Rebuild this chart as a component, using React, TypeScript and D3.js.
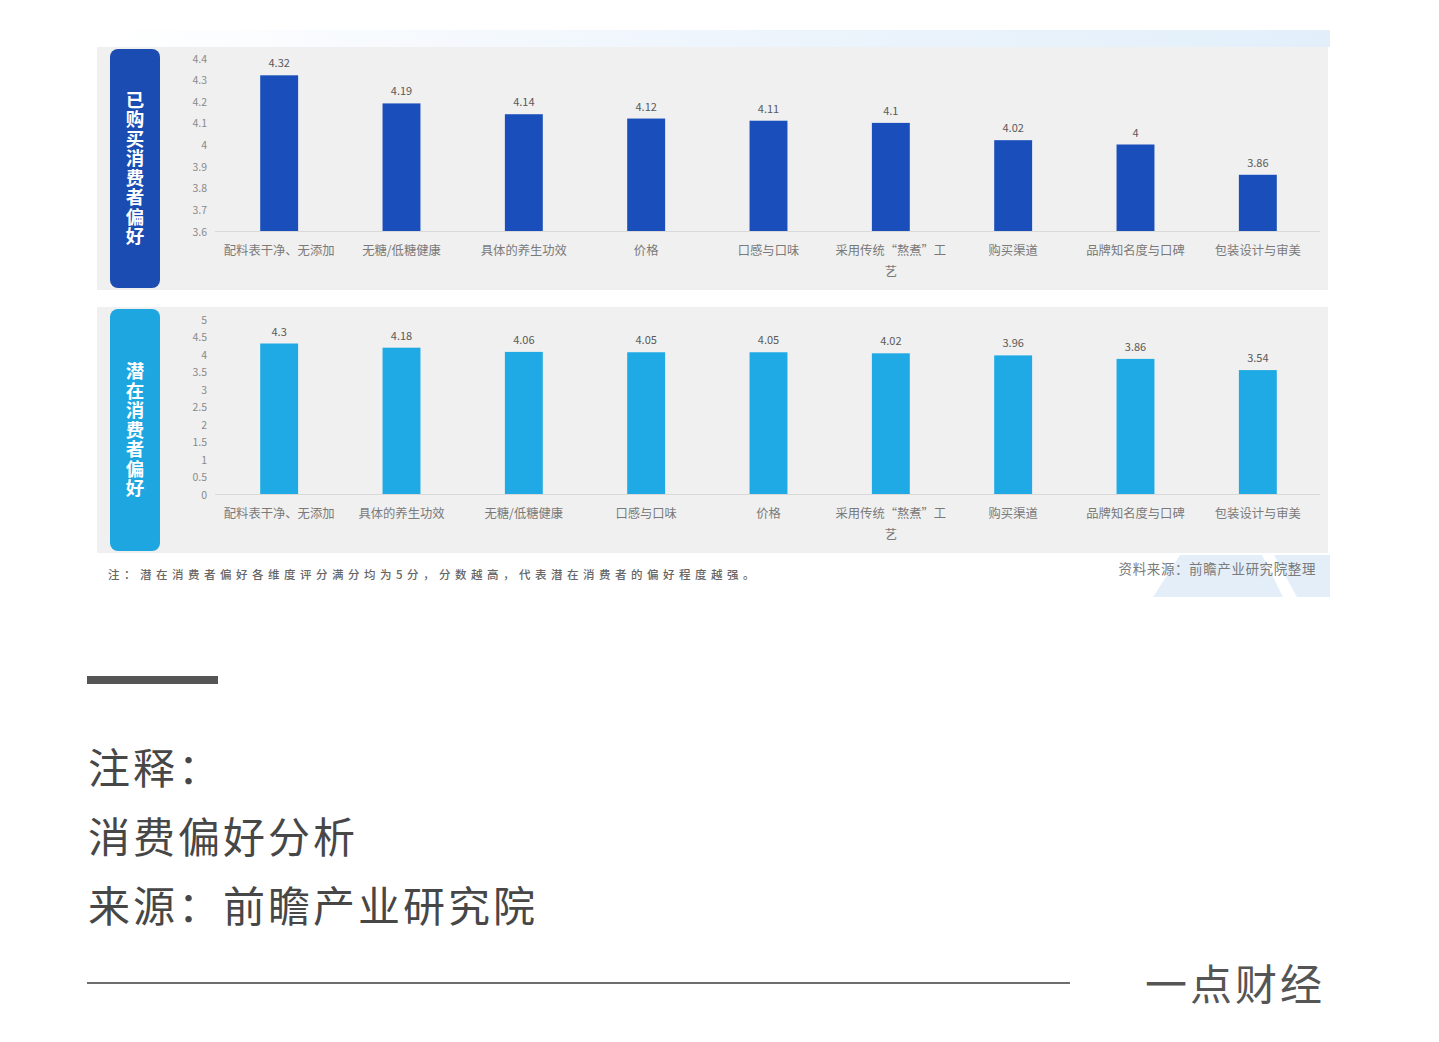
import React from "react";
import * as d3 from "d3";

const purchasedCategories = [
  "配料表干净、无添加",
  "无糖/低糖健康",
  "具体的养生功效",
  "价格",
  "口感与口味",
  "采用传统“熬煮”工艺",
  "购买渠道",
  "品牌知名度与口碑",
  "包装设计与审美",
];
const purchasedValues = [4.32, 4.19, 4.14, 4.12, 4.11, 4.1, 4.02, 4, 3.86];
const purchasedTicks = [3.6, 3.7, 3.8, 3.9, 4, 4.1, 4.2, 4.3, 4.4];

const potentialCategories = [
  "配料表干净、无添加",
  "具体的养生功效",
  "无糖/低糖健康",
  "口感与口味",
  "价格",
  "采用传统“熬煮”工艺",
  "购买渠道",
  "品牌知名度与口碑",
  "包装设计与审美",
];
const potentialValues = [4.3, 4.18, 4.06, 4.05, 4.05, 4.02, 3.96, 3.86, 3.54];
const potentialTicks = [0, 0.5, 1, 1.5, 2, 2.5, 3, 3.5, 4, 4.5, 5];

const panelTitles = ["已购买消费者偏好", "潜在消费者偏好"];
const noteText = "注：潜在消费者偏好各维度评分满分均为5分，分数越高，代表潜在消费者的偏好程度越强。";
const sourceText = "资料来源：前瞻产业研究院整理";
const captionLines = ["注释：", "消费偏好分析", "来源：前瞻产业研究院"];
const brandText = "一点财经";

const FONT = "'Noto Sans CJK SC', 'Noto Sans', sans-serif";

function wrap(label: string, maxChars = 9): string[] {
  const chars = Array.from(label);
  const lines: string[] = [];
  for (let i = 0; i < chars.length; i += maxChars) lines.push(chars.slice(i, i + maxChars).join(""));
  return lines;
}

type PanelProps = {
  title: string;
  categories: string[];
  values: number[];
  ticks: number[];
  domain: [number, number];
  top: number;
  height: number;
  yTop: number;
  yBase: number;
  barColor: string;
  boxColor: string;
};

function Panel(p: PanelProps) {
  const x = d3
    .scaleBand<string>()
    .domain(p.categories)
    .range([218, 1319])
    .paddingInner(0.69)
    .paddingOuter(0.345);
  const y = d3.scaleLinear().domain(p.domain).range([p.yBase, p.yTop]);
  const fmt = d3.format("~g");
  const boxTop = p.top + 2;
  const boxH = p.height - 4;
  return (
    <g>
      <rect x={97} y={p.top} width={1231} height={p.height} fill="#f0f0f0" />
      <rect x={110} y={boxTop} width={50} height={boxH} rx={8} fill={p.boxColor} />
      <text
        x={135}
        y={boxTop + boxH / 2}
        textAnchor="middle"
        fill="#ffffff"
        fontSize={18.5}
        fontWeight={700}
        fontFamily={FONT}
        letterSpacing={1}
        style={{ writingMode: "vertical-rl" as any }}
      >
        {p.title}
      </text>
      {p.ticks.map((t) => (
        <text
          key={t}
          x={207}
          y={y(t)}
          textAnchor="end"
          dominantBaseline="central"
          fill="#8a8a8a"
          fontSize={10.5}
          fontFamily={FONT}
        >
          {fmt(t)}
        </text>
      ))}
      <line x1={215} x2={1320} y1={p.yBase + 0.5} y2={p.yBase + 0.5} stroke="#d9d9d9" strokeWidth={1} />
      {p.categories.map((c, i) => {
        const bx = x(c)!;
        const v = p.values[i];
        const cx = bx + x.bandwidth() / 2;
        return (
          <g key={c}>
            <rect x={bx} y={y(v)} width={x.bandwidth()} height={p.yBase - y(v)} fill={p.barColor} />
            <text
              x={cx}
              y={y(v) - 13}
              textAnchor="middle"
              dominantBaseline="central"
              fill="#595959"
              fontSize={11}
              fontFamily={FONT}
            >
              {fmt(v)}
            </text>
            {wrap(c).map((line, li) => (
              <text
                key={li}
                x={cx}
                y={p.yBase + 19 + li * 21}
                textAnchor="middle"
                dominantBaseline="central"
                fill="#7a7a7a"
                fontSize={12.3}
                fontFamily={FONT}
              >
                {line}
              </text>
            ))}
          </g>
        );
      })}
    </g>
  );
}

export default function App() {
  return (
    <svg
      width={1439}
      height={1042}
      viewBox="0 0 1439 1042"
      style={{ position: "absolute", left: 0, top: 0, background: "#ffffff" }}
    >
      <defs>
        <linearGradient id="topGlow" x1="0" x2="1" y1="0" y2="0">
          <stop offset="0" stopColor="#ffffff" />
          <stop offset="0.5" stopColor="#eef5fc" />
          <stop offset="1" stopColor="#e2effa" />
        </linearGradient>
      </defs>
      <rect x={95} y={30} width={1235} height={17} fill="url(#topGlow)" />
      <polygon points="1153,597 1180,555 1262,555 1283,597" fill="#e3eef9" />
      <polygon points="1297,597 1274,555 1330,555 1330,597" fill="#e3eef9" />
      <Panel
        title={panelTitles[0]}
        categories={purchasedCategories}
        values={purchasedValues}
        ticks={purchasedTicks}
        domain={[3.6, 4.4]}
        top={47}
        height={243}
        yTop={58}
        yBase={231}
        barColor="#1a4fbb"
        boxColor="#1a4cb2"
      />
      <Panel
        title={panelTitles[1]}
        categories={potentialCategories}
        values={potentialValues}
        ticks={potentialTicks}
        domain={[0, 5]}
        top={307}
        height={246}
        yTop={319}
        yBase={494}
        barColor="#1faae5"
        boxColor="#1ea6e0"
      />
      <text
        x={108}
        y={574}
        dominantBaseline="central"
        fill="#666666"
        fontSize={11.5}
        fontWeight={500}
        letterSpacing={4.5}
        fontFamily={FONT}
      >
        {noteText}
      </text>
      <text
        x={1316}
        y={568}
        textAnchor="end"
        dominantBaseline="central"
        fill="#7a7a7a"
        fontSize={13.5}
        letterSpacing={0.6}
        fontFamily={FONT}
      >
        {sourceText}
      </text>
      <rect x={87} y={676} width={131} height={8} fill="#555555" />
      {captionLines.map((t, i) => (
        <text
          key={i}
          x={88}
          y={765 + i * 69}
          dominantBaseline="central"
          fill="#474747"
          fontSize={42}
          letterSpacing={3}
          fontFamily={FONT}
        >
          {t}
        </text>
      ))}
      <line x1={87} x2={1070} y1={983} y2={983} stroke="#6e6e6e" strokeWidth={1.8} />
      <text
        x={1145}
        y={981}
        dominantBaseline="central"
        fill="#555555"
        fontSize={42}
        letterSpacing={3}
        fontFamily={FONT}
      >
        {brandText}
      </text>
    </svg>
  );
}
